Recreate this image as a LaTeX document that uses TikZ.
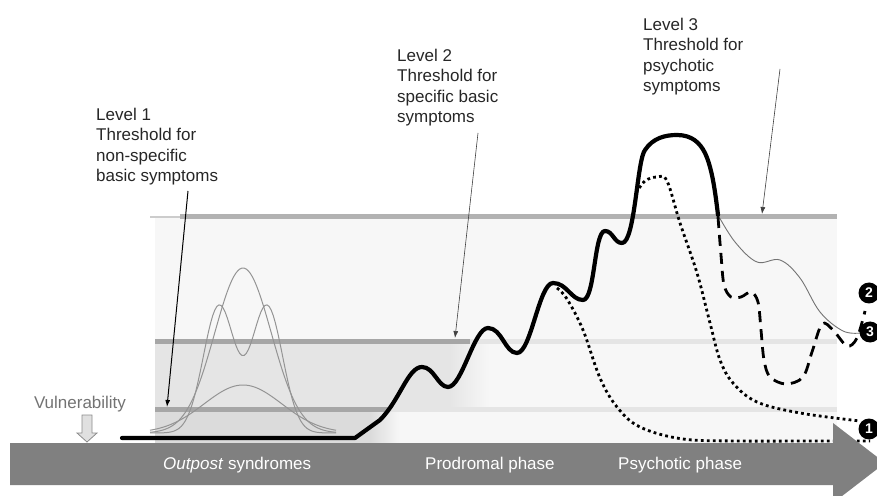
\documentclass[tikz,border=0pt]{standalone}
\usepackage{fontspec}
\setmainfont{Liberation Sans}
\usepackage{tikz}
\usetikzlibrary{positioning,arrows.meta}

\begin{document}
\begin{tikzpicture}[
  x=1bp, y=-1bp,
  every node/.style={font=\fontsize{17bp}{20.5bp}\selectfont},
  lbl/.style={anchor=base west, align=left, text=black!85, inner sep=0pt},
  phase/.style={anchor=base west, text=white, inner sep=0pt},
  pointer/.style={-{Latex[length=7bp,width=5bp]}},
  level/.style={line width=5bp},
  bump/.style={draw=black!42, line width=1bp},
  course/.style={line width=4.2bp, line join=round, line cap=round},
  dots/.style={line width=2.8bp, dash pattern=on 2.8bp off 3.2bp},
  dashes/.style={line width=2.8bp, dash pattern=on 11bp off 7bp},
  badge/.style={circle, fill=black, text=white, inner sep=0pt, minimum size=21bp,
    font=\fontsize{14bp}{14bp}\selectfont\bfseries}
]
\useasboundingbox (0,0) rectangle (877,496);

%% ── Level y-positions ────────────────────────────────────────────────
\def\yA{409}    % Level 1
\def\yB{341}    % Level 2
\def\yC{217}    % Level 3

%% ── Shaded background and bands ──────────────────────────────────────
\fill[black!3] (155,\yC) rectangle (837,443);
\fill[black!10] (155,\yB) rectangle (450,\yA);
\shade[left color=black!10, right color=black!3] (450,\yB) rectangle (490,\yA);
\fill[black!14] (155,\yA) rectangle (370,443);
\shade[left color=black!14, right color=black!3] (370,\yA) rectangle (400,443);

%% ── Threshold lines ──────────────────────────────────────────────────
\draw[black!20, line width=1.5bp] (150,\yC) -- (180,\yC);
\draw[level, black!30] (180,\yC) -- (837,\yC);
\draw[level, black!35] (155,\yB) -- (470,\yB);
\draw[level, black!10] (470,\yB) -- (837,\yB);
\draw[level, black!35] (155,\yA) -- (390,\yA);
\draw[level, black!10] (390,\yA) -- (837,\yA);

%% ── Outpost bumps ────────────────────────────────────────────────────
\draw[bump] plot[domain=150:336, samples=90]
  (\x, {433-165*exp(-((\x-243)/40)*((\x-243)/40))});
\draw[bump] plot[domain=150:336, samples=90]
  (\x, {433-127*exp(-((\x-219)/22)*((\x-219)/22))-127*exp(-((\x-267)/22)*((\x-267)/22))});
\draw[bump] plot[domain=150:336, samples=90]
  (\x, {433-48*exp(-((\x-243)/55)*((\x-243)/55))});

%% ── Outcome badges ───────────────────────────────────────────────────
\coordinate (one) at (869,429);
\coordinate (two) at (869,293);
\coordinate (three) at (870,332);

%% ── Outcome 1: dotted courses ────────────────────────────────────────
\draw[dots] plot[smooth, tension=0.6] coordinates {(557,288) (567,299) (583,330)
  (600,378) (617,407) (640,427) (683,439) (740,441) (800,441)} -- (870,441);
\draw[dots] plot[smooth, tension=0.6] coordinates {(636,193) (645,181) (657,177)
  (667,181) (680,223) (697,273) (710,323) (720,360) (733,383) (757,402)
  (800,413) (860,421)};

%% ── Outcome 3: thin course ───────────────────────────────────────────
\draw[black!55, line width=0.9bp] plot[smooth, tension=0.6] coordinates {(718,215)
  (735,242) (757,262) (780,260) (800,278) (820,312) (843,331) (861,333)};

%% ── Outcome 2: dashed course ─────────────────────────────────────────
\draw[dashes] plot[smooth, tension=0.55] coordinates {(718,217) (721,255) (724,285)
  (731,297) (741,297) (751,292) (758,302) (761,330) (764,360) (770,377)
  (786,384) (803,377) (812,352) (822,324) (833,330) (847,346) (857,338) (865,311)};

%% ── Main course ──────────────────────────────────────────────────────
\draw[course] (122,438) -- (355,438) -- (380,420)
  .. controls (400,400) and (408,367) .. (422,367)
  .. controls (434,367) and (438,387) .. (448,387)
  .. controls (462,387) and (474,328) .. (488,328)
  .. controls (502,328) and (505,353) .. (517,353)
  .. controls (531,353) and (539,283) .. (553,283)
  .. controls (567,283) and (571,300) .. (583,300)
  .. controls (595,300) and (594,231) .. (605,231)
  .. controls (613,231) and (614,243) .. (622,243)
  .. controls (635,243) and (637,160) .. (645,150)
  .. controls (653,138) and (665,135) .. (677,135)
  .. controls (692,135) and (700,143) .. (705,153)
  .. controls (712,168) and (715,190) .. (718,215);

%% ── Time arrow ───────────────────────────────────────────────────────
\fill[black!50] (10,443) -- (833,443) -- (833,423) -- (885,463) -- (833,503)
  -- (833,485) -- (10,485) -- cycle;
\node[phase] (outpost) at (163,469) {\textit{Outpost} syndromes};
\node[phase] (prodrome) at (425,469) {Prodromal phase};
\node[phase] (psychosis) at (618,469) {Psychotic phase};

\node[badge] (bone) at (one) {1};
\node[badge] (btwo) at (two) {2};
\node[badge] (bthree) at (three) {3};

%% ── Vulnerability ────────────────────────────────────────────────────
\node[anchor=base, text=black!55, inner sep=0pt] (vuln) at (80,408) {Vulnerability};
\filldraw[fill=black!12, draw=black!45, line width=0.8bp]
  (82,415) -- (92,415) -- (92,433) -- (97,433) -- (87,442) -- (77,433) -- (82,433) -- cycle;

%% ── Threshold labels (anchored at last baseline) ─────────────────────
\node[lbl] (lvlone) at (96,182) {Level 1\\Threshold for\\non-specific\\basic symptoms};
\node[lbl] (lvltwo) at (397,123) {Level 2\\Threshold for\\specific basic\\symptoms};
\node[lbl] (lvlthree) at (643,92) {Level 3\\Threshold for\\psychotic\\symptoms};

\coordinate (fromone) at (188,191);
\coordinate (tipone) at (167,407);
\coordinate (fromtwo) at (478,133);
\coordinate (tiptwo) at (455,338);
\coordinate (fromthree) at (780,69);
\coordinate (tipthree) at (762,214);

\draw[pointer, line width=1bp] (fromone) -- (tipone);
\draw[pointer, black!75, line width=0.6bp] (fromtwo) -- (tiptwo);
\draw[pointer, black!75, line width=0.6bp] (fromthree) -- (tipthree);

\end{tikzpicture}
\end{document}
